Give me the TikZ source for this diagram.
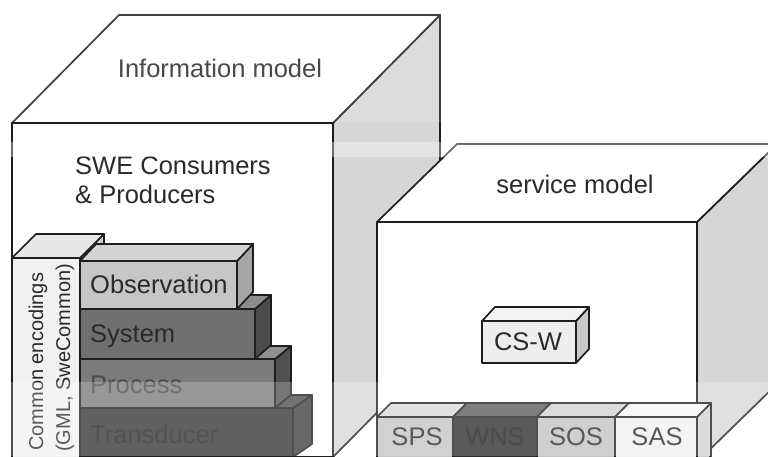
\documentclass[tikz,border=0pt]{standalone}
\usepackage{fontspec}
\setmainfont{Liberation Sans}
\usetikzlibrary{calc}
\definecolor{ink}{HTML}{1E1E1E}
\definecolor{txt}{HTML}{2A2A2A}
\definecolor{sideg}{HTML}{D6D6D6}
\definecolor{encF}{HTML}{F1F1F1}
\definecolor{encT}{HTML}{E6E6E6}
\definecolor{encR}{HTML}{CFCFCF}
\definecolor{obsF}{HTML}{C6C6C6}
\definecolor{obsT}{HTML}{D4D4D4}
\definecolor{obsR}{HTML}{A6A6A6}
\definecolor{sysF}{HTML}{707070}
\definecolor{sysT}{HTML}{8E8E8E}
\definecolor{sysR}{HTML}{4C4C4C}
\definecolor{proF}{HTML}{7C7C7C}
\definecolor{proT}{HTML}{909090}
\definecolor{proR}{HTML}{505050}
\definecolor{proX}{HTML}{4A4A4A}
\definecolor{traF}{HTML}{343434}
\definecolor{traT}{HTML}{4C4C4C}
\definecolor{traR}{HTML}{3E3E3E}
\definecolor{traX}{HTML}{222222}
\definecolor{cswF}{HTML}{EEEEEE}
\definecolor{cswT}{HTML}{F3F3F3}
\definecolor{cswR}{HTML}{C8C8C8}
\definecolor{spsF}{HTML}{C5C5C5}
\definecolor{spsT}{HTML}{DADADA}
\definecolor{wnsF}{HTML}{2C2C2C}
\definecolor{wnsT}{HTML}{5B5B5B}
\definecolor{wnsX}{HTML}{1A1A1A}
\definecolor{sosF}{HTML}{C3C3C3}
\definecolor{sosT}{HTML}{D2D2D2}
\definecolor{sasF}{HTML}{F1F1F1}
\definecolor{sasT}{HTML}{F6F6F6}
\definecolor{rowR}{HTML}{D0D0D0}
% #1,#2 front top-left; #3,#4 front bottom-right; #5,#6 depth offset; #7 front, #8 top, #9 right
\newcommand{\boxcube}[9]{%
  \filldraw[fill=#9,edge] (#3,#2) -- ++(#5,#6) -- ($(#3,#4)+(#5,#6)$) -- (#3,#4) -- cycle;
  \filldraw[fill=#8,edge] (#1,#2) -- ++(#5,#6) -- ($(#3,#2)+(#5,#6)$) -- (#3,#2) -- cycle;
  \filldraw[fill=#7,edge] (#1,#2) rectangle (#3,#4);
}
\begin{document}
\begin{tikzpicture}[x=1pt,y=-1pt,
  edge/.style={draw=ink, line width=1.7pt, line join=round},
  lbl/.style={font=\fontsize{25.5}{30}\selectfont, text=txt, inner sep=0pt},
  small/.style={font=\fontsize{20}{27}\selectfont, text=txt, inner sep=0pt, rotate=90, anchor=base west}]
\useasboundingbox (0,0) rectangle (768,456);
\fill[white] (0,0) rectangle (768,456);
\begin{scope}
\clip (0,0) rectangle (768,456);
% information model box
\boxcube{12}{123}{333}{457}{107}{-108}{white}{white}{sideg}
% stack
\boxcube{12}{258}{80}{470}{24}{-24}{encF}{encT}{encR}
\boxcube{80}{408}{293}{457}{19}{-13}{traF}{traT}{traR}
\boxcube{80}{359}{275}{408}{16}{-13}{proF}{proT}{proR}
\boxcube{80}{309}{255}{359}{16}{-14}{sysF}{sysT}{sysR}
\boxcube{80}{261}{237}{309}{16}{-17}{obsF}{obsT}{obsR}
% service model box
\boxcube{377}{222}{697}{462}{80}{-78}{white}{white}{sideg}
\boxcube{482}{321}{576}{363}{13}{-14}{cswF}{cswT}{cswR}
\boxcube{377}{417}{453}{470}{14}{-14}{spsF}{spsT}{rowR}
\boxcube{453}{417}{537}{470}{14}{-14}{wnsF}{wnsT}{rowR}
\boxcube{537}{417}{615}{470}{14}{-14}{sosF}{sosT}{rowR}
\boxcube{615}{417}{697}{470}{14}{-14}{sasF}{sasT}{rowR}
% labels
\node[lbl, anchor=base] (info) at (220,77) {Information model};
\node[lbl, anchor=base west] (swe1) at (75,174) {SWE Consumers};
\node[lbl, anchor=base west] (swe2) at (75,203) {\& Producers};
\node[small] (enc1) at (43,451) {Common encodings};
\node[small] (enc2) at (70,452) {(GML, SweCommon)};
\node[lbl, anchor=base west] (obs) at (90,293) {Observation};
\node[lbl, anchor=base west] (sys) at (90,342) {System};
\node[lbl, anchor=base west, text=proX] (pro) at (90,393) {Process};
\node[lbl, anchor=base west, text=traX] (tra) at (90,443) {Transducer};
\node[lbl, anchor=base] (svc) at (575,193) {service model};
\node[lbl, anchor=base] (csw) at (528,350) {CS-W};
\node[lbl, anchor=base] (sps) at (417,445) {SPS};
\node[lbl, anchor=base, text=wnsX] (wns) at (495,445) {WNS};
\node[lbl, anchor=base] (sos) at (576,445) {SOS};
\node[lbl, anchor=base] (sas) at (657,445) {SAS};
% scan tone bands
\fill[white, opacity=0.15] (0,0) rectangle (768,122);
\fill[white, opacity=0.35] (0,142) rectangle (768,157);
\fill[white, opacity=0.22] (0,382) rectangle (768,456);
\end{scope}
\end{tikzpicture}
\end{document}
